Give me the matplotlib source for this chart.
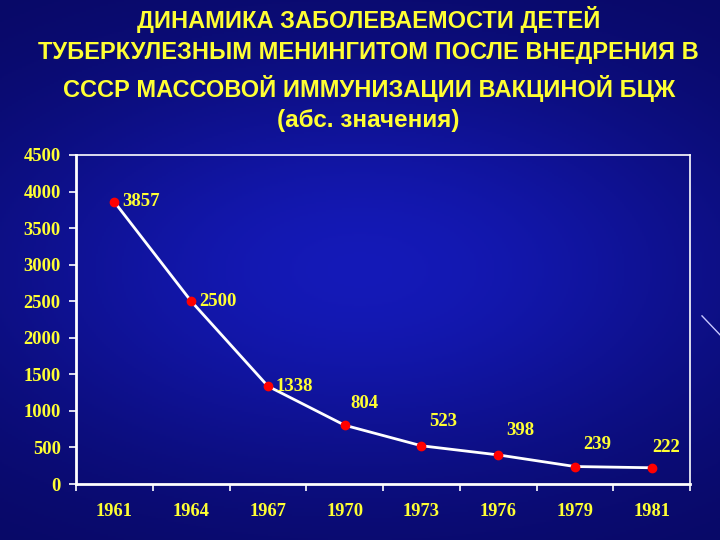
import matplotlib.pyplot as plt
import numpy as np

# Data
years = ["1961", "1964", "1967", "1970", "1973", "1976", "1979", "1981"]
cases = [3857, 2500, 1338, 804, 523, 398, 239, 222]

title_lines = [
    "ДИНАМИКА ЗАБОЛЕВАЕМОСТИ ДЕТЕЙ",
    "ТУБЕРКУЛЕЗНЫМ МЕНИНГИТОМ ПОСЛЕ ВНЕДРЕНИЯ В",
    "СССР МАССОВОЙ ИММУНИЗАЦИИ ВАКЦИНОЙ БЦЖ",
    "(абс. значения)",
]

YELLOW = "#ffff33"

fig = plt.figure(figsize=(7.2, 5.4), dpi=100)

# blue slide background with a soft glow
bg = fig.add_axes([0, 0, 1, 1], zorder=-10)
yy, xx = np.mgrid[0:1:270j, 0:1:360j]
glow = np.exp(-((xx - 0.5) ** 2 / 0.3 + (yy - 0.5) ** 2 / 0.15))
base = np.array([0.03, 0.03, 0.38])
bright = np.array([0.08, 0.10, 0.72])
img = base + glow[..., None] * (bright - base)
bg.imshow(img, extent=[0, 1, 0, 1], aspect="auto", origin="lower")
bg.plot([0.975, 1.0], [0.415, 0.38], color="#c8c8ff", lw=1)
bg.set_xlim(0, 1)
bg.set_ylim(0, 1)
bg.axis("off")

ys = [0.963, 0.903, 0.836, 0.776]
sizes = [17.0, 17.0, 17.0, 17.5]
for line, y, s in zip(title_lines, ys, sizes):
    fig.text(0.512, y, line, ha="center", va="center", color=YELLOW,
             fontsize=s, fontweight="bold", family="Liberation Sans")

ax = fig.add_axes([0.1056, 0.1037, 0.8528, 0.6093])
ax.patch.set_alpha(0)
x = np.arange(len(years))
ax.plot(x, cases, color="white", lw=2, marker="o", markersize=6,
        markerfacecolor="red", markeredgecolor="red", zorder=3)

offsets = [(8, 0, "left"), (8, 0, "left"), (8, 0, "left"),
           (20, 22, "center"), (22, 24, "center"), (22, 24, "center"),
           (22, 22, "center"), (14, 20, "center")]
for xi, v, (dx, dy, ha) in zip(x, cases, offsets):
    ax.annotate(str(v), (xi, v), xytext=(dx, dy), textcoords="offset pixels",
                ha=ha, va="center", color=YELLOW, fontsize=13.5,
                fontweight="bold", family="Liberation Serif")

ax.set_xlim(-0.5, len(years) - 0.5)
ax.set_ylim(0, 4500)
ax.set_yticks(np.arange(0, 4501, 500))
ax.set_xticks(x)
ax.set_xticklabels(years)
ax.set_xticks(np.arange(-0.5, len(years)), minor=True)
ax.tick_params(axis="x", which="major", length=0, pad=14)
ax.tick_params(axis="x", which="minor", length=5, color="white", width=1.2)
ax.tick_params(axis="y", length=5, color="white", width=1.2, pad=6)
for lab in ax.get_xticklabels() + ax.get_yticklabels():
    lab.set_color(YELLOW)
    lab.set_fontsize(13.3)
    lab.set_fontweight("bold")
    lab.set_family("Liberation Serif")
for side in ["left", "bottom", "top", "right"]:
    ax.spines[side].set_color("white")
ax.spines["left"].set_linewidth(2)
ax.spines["bottom"].set_linewidth(2)
ax.spines["top"].set_linewidth(1.2)
ax.spines["right"].set_linewidth(1.2)

fig.savefig("out.png", dpi=100)
